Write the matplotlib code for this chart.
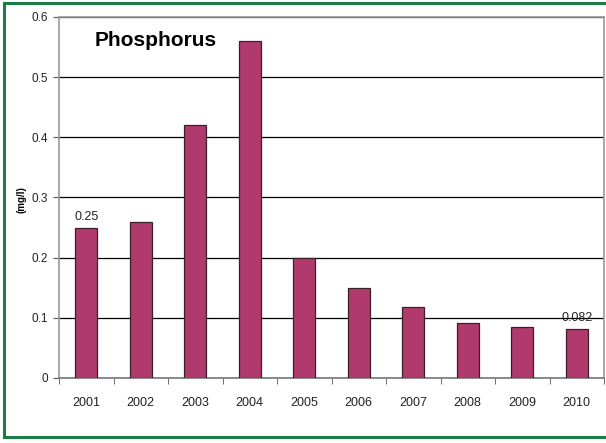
import matplotlib.pyplot as plt

plt.rcParams['font.family'] = ['Liberation Sans', 'DejaVu Sans']

# Datos
years = ['2001', '2002', '2003', '2004', '2005', '2006', '2007', '2008', '2009', '2010']
phosphorus = [0.25, 0.26, 0.42, 0.56, 0.20, 0.15, 0.118, 0.092, 0.084, 0.082]

W, H = 606, 443
fig = plt.figure(figsize=(W / 100, H / 100), dpi=100)

# Marco verde exterior (sin borde derecho)
green = '#1b7d43'
for xs, ys in [([3.5, 3.5], [3, 437]), ([3.5, W], [3, 3]), ([3.5, W], [437, 437])]:
    fig.add_artist(plt.Line2D([x / W for x in xs], [1 - y / H for y in ys],
                              color=green, linewidth=2.2))

ax = fig.add_axes([59 / W, 1 - 378 / H, (604 - 59) / W, (378 - 17) / H])
pos = list(range(len(years)))
ax.bar(pos, phosphorus, width=0.4, color='#b03a6e', edgecolor='#3a2028',
       linewidth=0.9, zorder=3)

ax.set_xlim(-0.5, len(years) - 0.5)
ax.set_ylim(0, 0.6)
ax.set_yticks([0, 0.1, 0.2, 0.3, 0.4, 0.5, 0.6])
ax.set_yticklabels(['0', '0.1', '0.2', '0.3', '0.4', '0.5', '0.6'])
ax.yaxis.grid(True, color='black', linewidth=0.9, zorder=1)

ax.set_xticks(pos)
ax.set_xticklabels(years)
ax.set_xticks([p + 0.5 for p in pos[:-1]] + [-0.5, len(years) - 0.5], minor=True)
ax.tick_params(axis='x', which='major', length=0, pad=14, labelsize=9, labelcolor='#222222')
ax.tick_params(axis='x', which='minor', length=4, direction='out', color='#555555')
ax.tick_params(axis='y', length=4, direction='out', color='#555555', labelsize=8.5,
               labelcolor='#222222', pad=4)

for s in ax.spines.values():
    s.set_color('#999999')
    s.set_linewidth(1.2)
ax.spines['bottom'].set_color('#777777')

# Etiquetas de valor (primero y último)
ax.text(0, phosphorus[0] + 0.008, '0.25', ha='center', va='bottom', fontsize=9, color='#222222')
ax.text(9, phosphorus[9] + 0.008, '0.082', ha='center', va='bottom', fontsize=9, color='#222222')

ax.text(0.065, 0.935, 'Phosphorus', transform=ax.transAxes, fontsize=15,
        fontweight='bold', ha='left', va='center')
fig.text(21 / W, 1 - 200 / H, '(mg/l)', rotation=90, fontsize=7, fontweight='bold',
         ha='center', va='center')

fig.savefig('out.png', dpi=100)
